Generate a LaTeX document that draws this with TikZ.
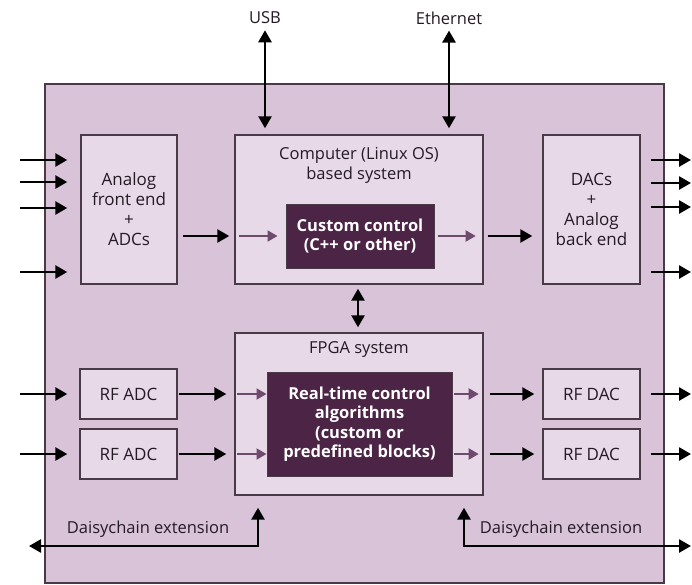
\documentclass[tikz,border=0pt]{standalone}
\usepackage{fontspec}
\setmainfont{Open Sans}
\usetikzlibrary{arrows.meta,calc}
\definecolor{outerfill}{HTML}{D9C3D9}
\definecolor{boxfill}{HTML}{E8D9E8}
\definecolor{darkfill}{HTML}{4B2446}
\definecolor{edgecol}{HTML}{4A3A48}
\definecolor{innerarrow}{HTML}{6E4A6C}
\definecolor{txtcol}{HTML}{241A24}
\tikzset{
  lbl/.style={font=\fontsize{16.5}{20}\selectfont, text=txtcol, align=center, inner sep=0pt},
  outerbox/.style={draw=edgecol, line width=1.4pt, fill=outerfill},
  lightbox/.style={draw=edgecol, line width=1.4pt, fill=boxfill, inner sep=0pt, font=\fontsize{17}{20}\selectfont, text=txtcol, align=center},
  darkbox/.style={draw=edgecol, line width=1pt, fill=darkfill, inner sep=0pt, font=\bfseries\fontsize{16.5}{19.5}\selectfont, text=white, align=center},
  bigarrow/.style={line width=2.6pt, -{Triangle[length=12pt,width=13pt]}},
  bigdbl/.style={line width=2.6pt, {Triangle[length=12pt,width=13pt]}-{Triangle[length=12pt,width=13pt]}},
  smallarrow/.style={line width=2pt, draw=innerarrow, -{Triangle[length=10pt,width=11pt]}},
}
\begin{document}
\begin{tikzpicture}[x=1pt,y=-1pt]
\useasboundingbox (0,0) rectangle (692,584);
\fill[white] (0,0) rectangle (692,584);

% outer box
\node[outerbox, minimum width=619pt, minimum height=499pt, inner sep=0pt] (outer) at (354.5,333.5) {};

% top labels
\node[lbl] (usb) at (265,18) {USB};
\node[lbl] (eth) at (449,18) {Ethernet};

% top row boxes
\node[lightbox, minimum width=96pt, minimum height=149pt] (afe) at (129,209.5) {Analog\\front end\\+\\ADCs};
\node[lightbox, minimum width=248pt, minimum height=149pt] (comp) at (359,209.5) {};
\node[lbl] (comptxt) at (359,165) {Computer (Linux OS)\\based system};
\node[darkbox, minimum width=148pt, minimum height=64pt] (cc) at (360,236) {Custom control\\(C++ or other)};
\node[lightbox, minimum width=97pt, minimum height=149pt] (dac) at (591.5,209.5) {DACs\\+\\Analog\\back end};

% bottom row boxes
\node[lightbox, minimum width=248pt, minimum height=162pt] (fpga) at (359,414) {};
\node[lbl] (fpgatxt) at (359,349) {FPGA system};
\node[darkbox, minimum width=185pt, minimum height=104pt] (rt) at (359.5,424) {Real-time control\\algorithms\\(custom or\\predefined blocks)};
\node[lightbox, minimum width=97pt, minimum height=50pt] (adc1) at (128.5,394) {RF ADC};
\node[lightbox, minimum width=97pt, minimum height=50pt] (adc2) at (128.5,454) {RF ADC};
\node[lightbox, minimum width=97pt, minimum height=50pt] (dac1) at (591.5,394) {RF DAC};
\node[lightbox, minimum width=97pt, minimum height=50pt] (dac2) at (591.5,454) {RF DAC};

% daisychain labels
\node[lbl] (dcl) at (148,529) {Daisychain extension};
\node[lbl] (dcr) at (561,529) {Daisychain extension};

% free-end coordinates
\coordinate (in1) at (20,160);
\coordinate (in2) at (20,182);
\coordinate (in3) at (20,208);
\coordinate (in4) at (20,272);
\coordinate (out1) at (691,160);
\coordinate (out2) at (691,183);
\coordinate (out3) at (691,207);
\coordinate (out4) at (691,272);
\coordinate (rin1) at (20,394);
\coordinate (rin2) at (20,454);
\coordinate (rout1) at (691,394);
\coordinate (rout2) at (691,454);
\coordinate (dleft) at (29,546);
\coordinate (dright) at (691,546);
\coordinate (dlc) at (258,546);
\coordinate (drc) at (464,546);

% USB / Ethernet
\draw[bigdbl, shorten <=6pt, shorten >=6pt] (usb.south) -- (usb.south |- comp.north);
\draw[bigdbl, shorten <=6pt, shorten >=6pt] (eth.south) -- (eth.south |- comp.north);

% analog inputs
\foreach \c in {in1,in2,in3,in4}
  \draw[bigarrow, shorten >=13pt] (\c) -- (afe.west |- \c);
% analog outputs
\foreach \c in {out1,out2,out3,out4}
  \draw[bigarrow, shorten <=10pt] (dac.east |- \c) -- (\c);

% afe -> comp -> cc -> comp -> dac
\draw[bigarrow, shorten <=5pt, shorten >=5pt] (afe.east |- cc) -- (comp.west |- cc);
\draw[smallarrow, shorten <=5pt, shorten >=8pt] (comp.west |- cc) -- (cc.west);
\draw[smallarrow, shorten <=3pt, shorten >=8pt] (cc.east) -- (comp.east |- cc);
\draw[bigarrow, shorten <=4pt, shorten >=10pt] (comp.east |- cc) -- (dac.west |- cc);

% comp <-> fpga
\draw[bigdbl, shorten <=4pt, shorten >=5pt] ([xshift=-1pt]comp.south) -- ([xshift=-1pt]fpga.north);

% RF paths
\foreach \a/\c in {adc1/rin1, adc2/rin2}{
  \draw[bigarrow, shorten >=12pt] (\c) -- (\a.west);
  \draw[bigarrow, shorten <=1pt, shorten >=8pt] (\a.east) -- (fpga.west |- \a);
  \draw[smallarrow, shorten <=3pt, shorten >=0pt] (fpga.west |- \a) -- (rt.west |- \a);
}
\foreach \d/\c in {dac1/rout1, dac2/rout2}{
  \draw[smallarrow, shorten <=1pt, shorten >=5pt] (rt.east |- \d) -- (fpga.east |- \d);
  \draw[bigarrow, shorten <=6pt, shorten >=8pt] (fpga.east |- \d) -- (\d.west);
  \draw[bigarrow, shorten <=10pt] (\d.east) -- (\c);
}

% daisychain
\draw[bigdbl, shorten >=12pt] (dleft) -- (dlc) -- (dlc |- fpga.south);
\draw[bigdbl, shorten >=12pt] (dright) -- (drc) -- (drc |- fpga.south);
\end{tikzpicture}
\end{document}
